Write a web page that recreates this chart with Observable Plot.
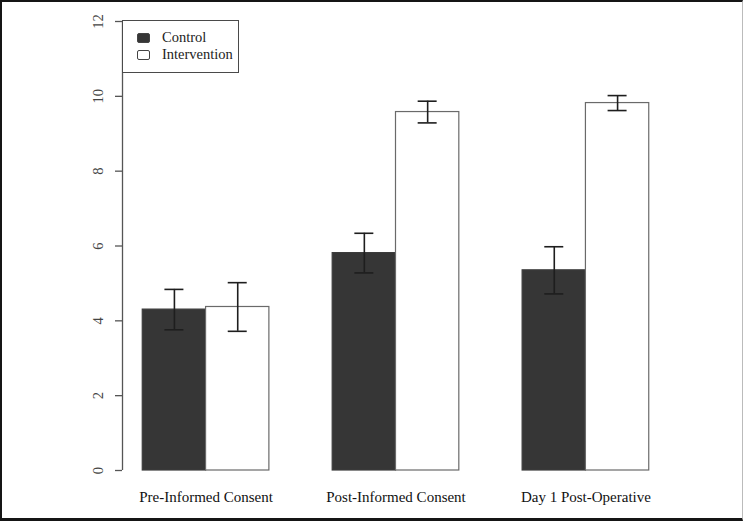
<!DOCTYPE html>
<html>
<head>
<meta charset="utf-8">
<script src="https://cdn.jsdelivr.net/npm/d3@7"></script>
<script src="https://cdn.jsdelivr.net/npm/@observablehq/plot@0.6"></script>
<style>
  html, body { margin: 0; padding: 0; background: #fff; }
  #wrap { position: relative; width: 743px; height: 521px; overflow: hidden; font-family: "Liberation Serif", "Times New Roman", serif; }
  #border { position: absolute; left: 0; top: 0; width: 743px; height: 521px; box-sizing: border-box;
    border-left: 2px solid #151515; border-top: 2px solid #151515; border-bottom: 3px solid #151515; border-right: 1px solid #bbb; pointer-events: none; }
  #legend { position: absolute; left: 122px; top: 20px; width: 117px; height: 53px; box-sizing: border-box;
    border: 1.5px solid #4a4a4a; background: #fff; }
  .item { position: absolute; left: 14px; display: flex; align-items: center; font-size: 14.5px; color: #222; }
  .sw { width: 13px; height: 10px; border: 1.2px solid #444; border-radius: 2px; margin-right: 12px; box-sizing: border-box; }
</style>
</head>
<body>
<div id="wrap">
  <div id="chart"></div>
  <div id="legend"></div>
  <div id="border"></div>
</div>
<script>
const groups = ["Pre-Informed Consent", "Post-Informed Consent", "Day 1 Post-Operative"];
const series = ["Control", "Intervention"];
const controlMean = [4.30, 5.81, 5.35];
const controlErr = [0.54, 0.53, 0.63];
const interventionMean = [4.37, 9.58, 9.82];
const interventionErr = [0.65, 0.29, 0.20];
const yTicks = [0, 2, 4, 6, 8, 10, 12];
const seriesColors = ["#363636", "#ffffff"];

// R barplot(beside=TRUE) layout: each group preceded by one bar-width of space
const rows = [];
groups.forEach((g, gi) => {
  [[controlMean, controlErr], [interventionMean, interventionErr]].forEach(([m, e], si) => {
    const left = 1 + gi * 3 + si;
    rows.push({group: g, series: series[si], mean: m[gi], err: e[gi],
      x1: left, x2: left + 1, xc: left + 0.5});
  });
});
const groupCenters = groups.map((g, gi) => 2 + gi * 3);
const xmin = 1, xmax = 1 + groups.length * 3 - 1;
const ext = (xmax - xmin) * 0.04;

const chart = Plot.plot({
  width: 743,
  height: 521,
  marginLeft: 122,
  marginRight: 74,
  marginTop: 21,
  marginBottom: 51,
  style: {fontFamily: "Liberation Serif, Times New Roman, serif", fontSize: "13px", color: "#333", background: "transparent"},
  x: {type: "linear", domain: [xmin - ext, xmax + ext], axis: null},
  y: {type: "linear", domain: [0, 12], axis: null},
  color: {domain: series, range: seriesColors},
  marks: [
    Plot.rectY(rows, {x1: "x1", x2: "x2", y1: 0, y2: "mean", fill: "series", stroke: d => d.series === "Control" ? "#3c3c3c" : "#6a6a6a", strokeWidth: 1.2}),
    Plot.ruleX(rows, {x: "xc", y1: d => d.mean - d.err, y2: d => d.mean + d.err, stroke: "#1e1e1e", strokeWidth: 1.6}),
    Plot.ruleY(rows, {y: d => d.mean + d.err, x1: d => d.xc - 0.15, x2: d => d.xc + 0.15, stroke: "#1e1e1e", strokeWidth: 1.6}),
    Plot.ruleY(rows, {y: d => d.mean - d.err, x1: d => d.xc - 0.15, x2: d => d.xc + 0.15, stroke: "#1e1e1e", strokeWidth: 1.6}),
    Plot.ruleX([xmin - ext], {y1: 0, y2: 12, stroke: "#555", strokeWidth: 1.3}),
    Plot.axisY(yTicks, {anchor: "left", tickSize: 7, tickPadding: 13, tickRotate: -90, stroke: "#555", strokeWidth: 1.3, fill: "#444", fontSize: 14.5, label: null}),
    Plot.axisX(groupCenters, {anchor: "bottom", tickSize: 0, tickPadding: 21, tickFormat: (d, i) => groups[i], fill: "#111", fontSize: 15, label: null})
  ]
});
document.getElementById("chart").appendChild(chart);

const legend = document.getElementById("legend");
series.forEach((s, i) => {
  const it = document.createElement("div");
  it.className = "item";
  it.style.top = (8 + i * 17) + "px";
  const sw = document.createElement("div");
  sw.className = "sw";
  sw.style.background = seriesColors[i];
  const t = document.createElement("span");
  t.textContent = s;
  it.appendChild(sw); it.appendChild(t);
  legend.appendChild(it);
});
</script>
</body>
</html>
